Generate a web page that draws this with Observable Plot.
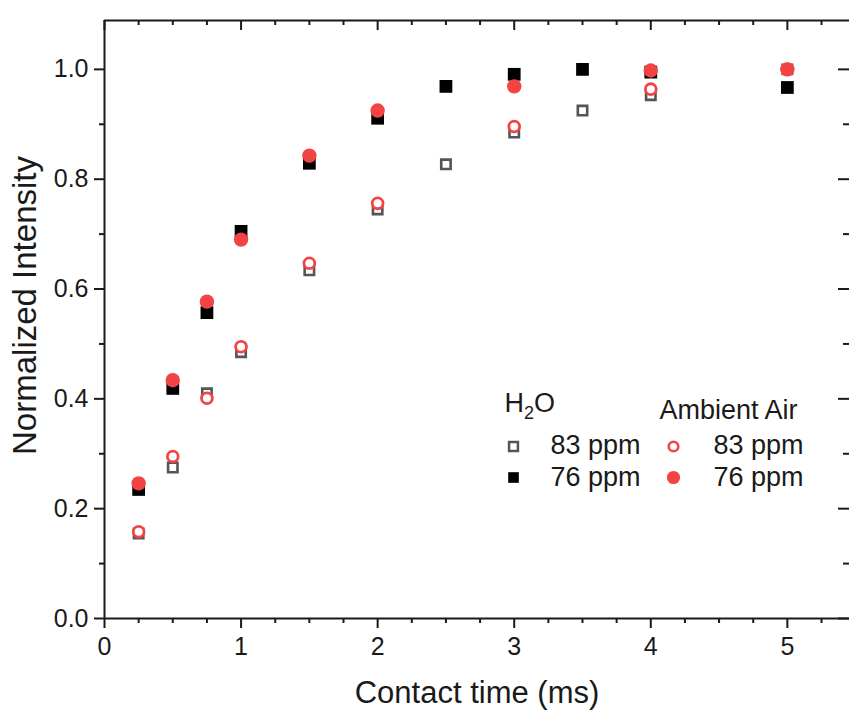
<!DOCTYPE html>
<html>
<head>
<meta charset="utf-8">
<script src="https://cdn.jsdelivr.net/npm/d3@7"></script>
<script src="https://cdn.jsdelivr.net/npm/@observablehq/plot@0.6"></script>
<style>
  html, body { margin: 0; padding: 0; background: #fff; }
  svg { display: block; }
</style>
</head>
<body>
<div id="chart"></div>
<script>
// ---- data ----
const xH2O = [0.25, 0.5, 0.75, 1, 1.5, 2, 2.5, 3, 3.5, 4, 5];
const h2o83 = [0.155, 0.275, 0.41, 0.485, 0.634, 0.745, 0.827, 0.885, 0.925, 0.953, 1.0];
const h2o76 = [0.235, 0.419, 0.557, 0.705, 0.829, 0.911, 0.969, 0.991, 1.0, 0.995, 0.967];
const xAir = [0.25, 0.5, 0.75, 1, 1.5, 2, 3, 4, 5];
const air83 = [0.158, 0.295, 0.401, 0.495, 0.647, 0.756, 0.896, 0.964, 1.0];
const air76 = [0.246, 0.434, 0.577, 0.69, 0.843, 0.925, 0.969, 0.998, 1.0];

const xMajor = [0, 1, 2, 3, 4, 5];
const xMinor = [0.25, 0.5, 0.75, 1.25, 1.5, 1.75, 2.25, 2.5, 2.75, 3.25, 3.5, 3.75, 4.25, 4.5, 4.75, 5.25];
const yMajor = [0, 0.2, 0.4, 0.6, 0.8, 1.0];
const yMinor = [0.1, 0.3, 0.5, 0.7, 0.9];
const xDomain = [0, 5.455];
const yDomain = [0, 1.089];

const xLabel = "Contact time (ms)";
const yLabel = "Normalized Intensity";
const legendH2O = "H2O";
const legendAir = "Ambient Air";
const label83 = "83 ppm";
const label76 = "76 ppm";

const RED = "#f24444";
const GRAY = "#555555";
const INK = "#1a1a1a";

const toRows = (xs, ys) => xs.map((x, i) => ({x, y: ys[i]}));

const W = 849, H = 711;
const mL = 104, mR = 0, mT = 20, mB = 93;
const fw = W - mL - mR, fh = H - mT - mB;

const legendText = (label, dx, dy) =>
  Plot.text([label], {text: d => d, frameAnchor: "top-left", dx, dy, textAnchor: "start", lineAnchor: "middle", fontSize: 27, fill: INK});

const plot = Plot.plot({
  width: W,
  height: H,
  marginLeft: mL,
  marginRight: mR,
  marginTop: mT,
  marginBottom: mB,
  style: {fontFamily: "'Liberation Sans', Arial, sans-serif", color: INK, background: "#fff"},
  x: {domain: xDomain},
  y: {domain: yDomain},
  marks: [
    // frame lines
    Plot.ruleX([xDomain[0]], {stroke: INK, strokeWidth: 2}),
    Plot.ruleY([yDomain[0]], {stroke: INK, strokeWidth: 2}),
    Plot.ruleY([yDomain[1]], {stroke: INK, strokeWidth: 2}),
    // bottom axis
    Plot.axisX({anchor: "bottom", ticks: xMajor, tickSize: 10, tickPadding: 9, strokeWidth: 2, fontSize: 25, tickFormat: d3.format("d"), label: null, fill: INK, stroke: INK}),
    Plot.axisX({anchor: "bottom", ticks: xMinor, tickSize: 5, text: null, strokeWidth: 2, label: null, stroke: INK}),
    // left axis
    Plot.axisY({anchor: "left", ticks: yMajor, tickSize: 10, tickPadding: 6, strokeWidth: 2, fontSize: 25, tickFormat: d3.format(".1f"), label: null, fill: INK, stroke: INK}),
    Plot.axisY({anchor: "left", ticks: yMinor, tickSize: 5, text: null, strokeWidth: 2, label: null, stroke: INK}),
    // top inward ticks
    Plot.tickX(xMajor, {x: d => d, insetBottom: fh - 10, stroke: INK, strokeWidth: 2}),
    Plot.tickX(xMinor, {x: d => d, insetBottom: fh - 5, stroke: INK, strokeWidth: 2}),
    // right inward ticks
    Plot.tickY(yMajor, {y: d => d, insetLeft: fw - 11, stroke: INK, strokeWidth: 2}),
    Plot.tickY(yMinor, {y: d => d, insetLeft: fw - 6, stroke: INK, strokeWidth: 2}),
    // axis labels
    Plot.text([xLabel], {text: d => d, frameAnchor: "bottom", dy: 75, textAnchor: "middle", lineAnchor: "middle", fontSize: 31, fill: INK}),
    Plot.text([yLabel], {text: d => d, frameAnchor: "left", dx: -79, dy: -14, rotate: -90, textAnchor: "middle", lineAnchor: "middle", fontSize: 33, fill: INK}),
    // data
    Plot.dot(toRows(xH2O, h2o83), {x: "x", y: "y", symbol: "square", r: 5.3, fill: "white", stroke: GRAY, strokeWidth: 2.6}),
    Plot.dot(toRows(xH2O, h2o76), {x: "x", y: "y", symbol: "square", r: 7.2, fill: "black", stroke: "none"}),
    Plot.dot(toRows(xAir, air83), {x: "x", y: "y", symbol: "circle", r: 5.4, fill: "white", stroke: RED, strokeWidth: 2.8}),
    Plot.dot(toRows(xAir, air76), {x: "x", y: "y", symbol: "circle", r: 7.2, fill: RED, stroke: "none"}),
    // legend
    legendText(legendH2O, 400, 383),
    legendText(legendAir, 555, 390),
    Plot.dot([0], {frameAnchor: "top-left", dx: 409, dy: 426, symbol: "square", r: 5.0, fill: "white", stroke: GRAY, strokeWidth: 2.5}),
    Plot.dot([0], {frameAnchor: "top-left", dx: 409, dy: 457, symbol: "square", r: 6.0, fill: "black", stroke: "none"}),
    Plot.dot([0], {frameAnchor: "top-left", dx: 569, dy: 426, symbol: "circle", r: 4.8, fill: "white", stroke: RED, strokeWidth: 2.6}),
    Plot.dot([0], {frameAnchor: "top-left", dx: 569, dy: 457, symbol: "circle", r: 6.6, fill: RED, stroke: "none"}),
    legendText(label83, 446, 425),
    legendText(label76, 446, 457),
    legendText(label83, 609, 425),
    legendText(label76, 609, 457)
  ]
});

// subscript in H2O
d3.select(plot).selectAll("text").filter(function() { return this.textContent === legendH2O; }).each(function() {
  const t = d3.select(this);
  t.text(null);
  t.append("tspan").text("H");
  t.append("tspan").attr("font-size", 18).attr("dy", 7).text("2");
  t.append("tspan").attr("dy", -7).text("O");
});

document.getElementById("chart").appendChild(plot);
</script>
</body>
</html>
